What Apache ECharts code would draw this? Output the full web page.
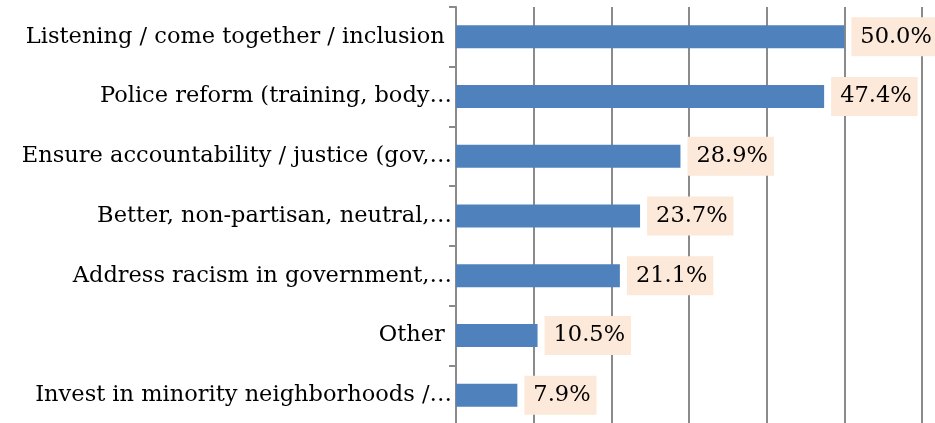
<!DOCTYPE html>
<html>
<head>
<meta charset="utf-8">
<script src="https://cdn.jsdelivr.net/npm/echarts@6/dist/echarts.min.js"></script>
<style>
  html, body { margin: 0; padding: 0; background: #fff; }
  #chart { width: 935px; height: 423px; }
</style>
</head>
<body>
<div id="chart"></div>
<script>
const categories = [
  'Listening / come together / inclusion ',
  'Police reform (training, body…',
  'Ensure accountability / justice (gov,…',
  'Better, non-partisan, neutral,…',
  'Address racism in government,…',
  'Other ',
  'Invest in minority neighborhoods /…'
]
const values = [50.0, 47.4, 28.9, 23.7, 21.1, 10.5, 7.9]

const font = '"DejaVu Serif", "Liberation Serif", serif'
const gray = '#8a8a8a'

const chart = echarts.init(document.getElementById('chart'))
chart.setOption({
  animation: false,
  grid: { left: 456, right: 13, top: 7, height: 418, outerBoundsMode: 'none' },
  xAxis: {
    type: 'value',
    min: 0,
    max: 60,
    interval: 10,
    axisLabel: { show: false },
    axisLine: { show: false },
    axisTick: { show: false },
    splitLine: { lineStyle: { color: gray, width: 2 } }
  },
  yAxis: {
    type: 'category',
    inverse: true,
    data: categories,
    axisLine: { lineStyle: { color: gray, width: 2 } },
    axisTick: { show: true, length: 7, lineStyle: { color: gray, width: 2 } },
    axisLabel: {
      color: '#000',
      fontFamily: font,
      fontSize: 22.5,
      margin: 4
    }
  },
  series: [{
    type: 'bar',
    data: values,
    barWidth: 23,
    itemStyle: { color: '#4f81bd' },
    label: {
      show: true,
      position: 'right',
      distance: 7,
      formatter: p => p.value.toFixed(1) + '%',
      color: '#000',
      fontFamily: font,
      fontSize: 22.5,
      backgroundColor: '#fde9d9',
      padding: [9, 6, 7, 9]
    }
  }]
})
</script>
</body>
</html>
